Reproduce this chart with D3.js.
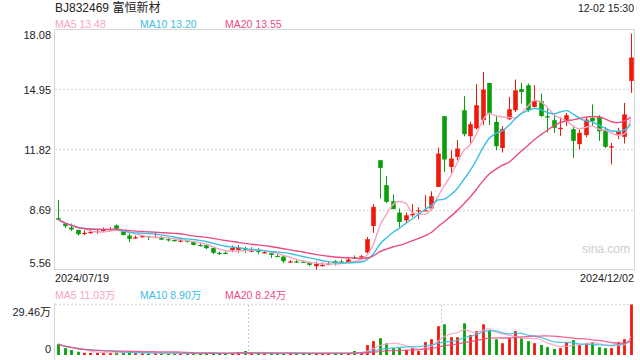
<!DOCTYPE html>
<html>
<head>
<meta charset="utf-8">
<script src="https://cdn.jsdelivr.net/npm/d3@7"></script>
<style>
  body { margin: 0; background: #fff; }
  svg { display: block; font-family: "Liberation Sans", Arial, "Noto Sans CJK SC", sans-serif; }
</style>
</head>
<body>
<div id="kline"></div>
<script>
const stockTitle = "BJ832469 富恒新材";
const stamp = "12-02 15:30";
const dateLabels = ["2024/07/19", "2024/12/02"];
const priceTicks = [18.08, 14.95, 11.82, 8.69, 5.56];
const volTicks = [29.46, 0];
const priceLegend = ["MA5 13.48", "MA10 13.20", "MA20 13.55"];
const volLegend = ["MA5 11.03万", "MA10 8.90万", "MA20 8.24万"];
const maPeriods = [5, 10, 20];
const separators = [30, 60];

const opens = [8.24, 7.96, 7.75, 7.63, 7.42, 7.47, 7.51, 7.57, 7.59, 7.86,
  7.57, 7.33, 7.21, 7.26, 7.31, 7.21, 7.23, 7.14, 7.10, 7.02,
  7.07, 7.00, 6.84, 6.83, 6.69, 6.43, 6.43, 6.57, 6.58, 6.66,
  6.50, 6.62, 6.41, 6.41, 6.27, 6.24, 5.94, 5.98, 5.97, 5.90,
  5.73, 5.77, 5.82, 5.99, 5.98, 5.94, 6.19, 6.19, 6.45, 7.83,
  11.26, 9.96, 9.12, 8.53, 8.13, 8.39, 8.60, 8.62, 8.74, 9.87,
  13.56, 10.91, 11.43, 13.87, 12.51, 12.92, 13.35, 15.29, 13.26, 11.90,
  13.40, 13.87, 14.97, 15.17, 14.04, 14.34, 13.56, 13.35, 12.89, 13.35,
  12.88, 12.10, 12.57, 13.47, 13.52, 12.83, 11.92, 12.60, 12.48, 15.40];
const highs = [9.18, 7.99, 7.96, 7.63, 7.61, 7.66, 7.70, 7.75, 7.78, 7.91,
  7.61, 7.44, 7.33, 7.35, 7.31, 7.52, 7.31, 7.23, 7.14, 7.23,
  7.10, 7.00, 6.92, 6.83, 6.69, 6.50, 6.53, 6.81, 6.83, 6.74,
  6.72, 6.69, 6.57, 6.44, 6.36, 6.24, 6.05, 6.05, 5.98, 5.98,
  5.98, 5.93, 5.96, 6.05, 6.08, 6.16, 6.29, 6.31, 7.26, 8.97,
  11.26, 10.43, 9.47, 8.74, 8.53, 8.97, 8.81, 9.45, 9.64, 11.92,
  13.56, 11.78, 12.31, 14.60, 13.26, 15.23, 15.87, 15.29, 13.61, 13.04,
  14.56, 15.47, 15.29, 15.26, 15.17, 14.74, 13.96, 13.70, 13.52, 13.73,
  13.00, 12.86, 13.52, 14.17, 13.61, 13.00, 12.16, 12.95, 14.25, 17.87];
const lows = [8.13, 7.73, 7.57, 7.33, 7.35, 7.42, 7.42, 7.51, 7.54, 7.66,
  7.33, 6.98, 7.16, 7.22, 7.09, 7.21, 7.09, 7.02, 7.01, 6.98,
  6.97, 6.81, 6.76, 6.62, 6.36, 6.32, 6.36, 6.46, 6.43, 6.43,
  6.46, 6.36, 6.39, 6.16, 6.22, 5.89, 5.93, 5.90, 5.90, 5.73,
  5.56, 5.70, 5.78, 5.77, 5.89, 5.93, 6.11, 6.13, 6.39, 7.47,
  9.26, 9.03, 8.71, 7.75, 7.99, 8.30, 8.18, 8.62, 8.65, 9.87,
  10.65, 10.57, 11.26, 12.51, 12.13, 12.86, 13.09, 13.09, 11.78, 11.66,
  13.35, 13.78, 14.22, 13.78, 14.01, 13.52, 12.71, 12.69, 12.53, 13.04,
  11.38, 11.82, 12.46, 13.04, 12.27, 11.90, 11.04, 12.36, 12.13, 14.77];
const closes = [8.16, 7.82, 7.65, 7.40, 7.47, 7.52, 7.56, 7.63, 7.66, 7.68,
  7.36, 7.16, 7.24, 7.30, 7.26, 7.26, 7.12, 7.10, 7.05, 7.07,
  7.00, 6.84, 6.81, 6.67, 6.43, 6.39, 6.40, 6.69, 6.72, 6.53,
  6.55, 6.48, 6.46, 6.32, 6.24, 5.99, 5.98, 5.93, 5.93, 5.80,
  5.85, 5.80, 5.87, 5.87, 5.94, 6.08, 6.15, 6.25, 7.14, 8.83,
  10.86, 9.09, 8.71, 8.04, 8.39, 8.46, 8.65, 8.65, 9.38, 11.61,
  11.30, 11.35, 11.87, 12.62, 13.14, 14.13, 14.95, 13.70, 11.99, 12.88,
  13.92, 14.91, 14.82, 13.87, 14.38, 13.57, 13.49, 12.95, 12.95, 13.61,
  12.27, 12.69, 13.38, 13.30, 12.77, 11.96, 11.99, 12.77, 13.65, 16.62];
// volume in 万
const volumes = [6.35, 4.0, 2.9, 1.9, 1.3, 1.2, 1.2, 1.2, 1.2, 1.6,
  1.7, 1.7, 1.1, 1.0, 1.0, 1.1, 1.0, 1.0, 0.9, 1.0,
  1.0, 1.1, 0.9, 1.0, 1.2, 1.0, 0.9, 1.2, 1.7, 2.3,
  1.0, 1.1, 0.9, 1.0, 0.9, 1.2, 0.9, 0.8, 0.8, 1.0,
  1.2, 1.0, 0.9, 1.0, 0.9, 1.2, 2.3, 1.3, 5.8, 8.1,
  9.8, 6.8, 4.0, 4.0, 2.9, 4.0, 2.3, 7.5, 9.2, 16.8,
  17.9, 10.4, 10.4, 18.5, 11.6, 13.9, 17.9, 14.4, 9.2, 6.9,
  9.8, 13.9, 9.8, 8.1, 6.9, 5.8, 4.6, 3.5, 4.0, 7.5,
  8.7, 5.8, 6.9, 7.5, 4.6, 4.0, 4.0, 7.5, 9.2, 29.46];

const RED = "#f0190c", GREEN = "#0a9e0a";
const maColors = ["#f7a4c2", "#3ac0e2", "#ec4b83"];

function movingAvg(arr, n) {
  return arr.map((_, i) => d3.mean(arr.slice(Math.max(0, i - n + 1), i + 1)));
}

function drawKline(containerId) {
  const width = 640, height = 360;
  const left = 55, right = 634;
  const n = closes.length;

  const svg = d3.select(`#${containerId}`)
    .append("svg")
      .attr("width", width)
      .attr("height", height);

  const x = d3.scaleBand().domain(d3.range(n)).range([left, right]);
  const y = d3.scaleLinear().domain([5.56, 18.08]).range([269.5, 29.5]);
  const yv = d3.scaleLinear().domain([0, 29.46]).range([355, 304.5]);
  const cx = i => Math.round(x(i) + x.bandwidth() / 2) + 0.5;

  // header
  svg.append("text").attr("x", 55).attr("y", 12)
      .attr("font-size", 12).attr("fill", "#222").text(stockTitle);
  svg.append("text").attr("x", right).attr("y", 12).attr("text-anchor", "end")
      .attr("font-size", 10.5).attr("fill", "#222").text(stamp);
  priceLegend.forEach((t, k) => {
    svg.append("text").attr("x", 55 + k * 85).attr("y", 27.5)
        .attr("font-size", 10.5).attr("fill", maColors[k]).text(t);
  });

  // grid + frame
  svg.append("g").selectAll("line")
    .data(priceTicks.slice(1, -1))
    .join("line")
      .attr("x1", left).attr("x2", right)
      .attr("y1", d => Math.round(y(d)) + 0.5).attr("y2", d => Math.round(y(d)) + 0.5)
      .attr("stroke", "#dedede").attr("stroke-width", 1.6)
      .attr("stroke-dasharray", "2,2");

  svg.append("rect")
      .attr("x", left - 0.5).attr("y", 29.5)
      .attr("width", right - left + 1).attr("height", 240)
      .attr("fill", "none").attr("stroke", "#d6d6d6");

  svg.append("text").attr("x", 582).attr("y", 253)
      .attr("font-size", 12).attr("fill", "#cdcdcd").text("sina.com");

  // price axis labels
  const ya = svg.append("g")
      .attr("transform", `translate(${left},0)`)
      .call(d3.axisLeft(y).tickValues(priceTicks).tickSize(0).tickPadding(4).tickFormat(d3.format(".2f")));
  ya.select(".domain").remove();
  ya.attr("font-family", null).attr("font-size", 11);
  ya.selectAll("text").attr("fill", "#222")
      .attr("y", d => d === priceTicks[0] ? 5.5 : d === priceTicks[priceTicks.length - 1] ? -6.5 : 0);

  // candles
  const isUp = i => closes[i] >= opens[i];
  const candles = svg.append("g").selectAll("g")
    .data(d3.range(n))
    .join("g");
  candles.append("line")
      .attr("x1", cx).attr("x2", cx)
      .attr("y1", i => y(highs[i])).attr("y2", i => y(lows[i]))
      .attr("stroke", i => isUp(i) ? RED : GREEN);
  const bw = 4.6;
  candles.append("rect")
      .attr("x", i => cx(i) - bw / 2)
      .attr("width", bw)
      .attr("y", i => y(Math.max(opens[i], closes[i])))
      .attr("height", i => Math.max(1.2, Math.abs(y(opens[i]) - y(closes[i]))))
      .attr("fill", i => isUp(i) ? RED : GREEN);

  // price MAs
  const line = d3.line().x((d, i) => x(i) + x.bandwidth() / 2).y(d => y(d)).curve(d3.curveMonotoneX);
  maPeriods.forEach((p, k) => {
    svg.append("path")
        .datum(movingAvg(closes, p))
        .attr("fill", "none")
        .attr("stroke", maColors[k])
        .attr("stroke-width", 1.4)
        .attr("d", line);
  });

  // dates
  svg.append("text").attr("x", left).attr("y", 281.5)
      .attr("font-size", 10.8).attr("fill", "#222").text(dateLabels[0]);
  svg.append("text").attr("x", right).attr("y", 281.5).attr("text-anchor", "end")
      .attr("font-size", 10.8).attr("fill", "#222").text(dateLabels[1]);

  // volume panel
  volLegend.forEach((t, k) => {
    svg.append("text").attr("x", 55 + k * 85).attr("y", 299)
        .attr("font-size", 10.5).attr("fill", maColors[k]).text(t);
  });

  svg.append("line")
      .attr("x1", left).attr("x2", right).attr("y1", 304.5).attr("y2", 304.5)
      .attr("stroke", "#dedede").attr("stroke-width", 1.6).attr("stroke-dasharray", "2,2");
  svg.append("g").selectAll("line")
    .data(separators)
    .join("line")
      .attr("x1", d => Math.round(x(d)) + 0.5).attr("x2", d => Math.round(x(d)) + 0.5)
      .attr("y1", 305).attr("y2", 356)
      .attr("stroke", "#cccccc").attr("stroke-dasharray", "2,2");
  svg.append("line")
      .attr("x1", left - 0.5).attr("x2", left - 0.5).attr("y1", 303).attr("y2", 360)
      .attr("stroke", "#d6d6d6");

  const va = svg.append("g")
      .attr("transform", `translate(${left},0)`)
      .call(d3.axisLeft(yv).tickValues(volTicks).tickSize(0).tickPadding(4)
        .tickFormat(d => d ? d + "万" : "0"));
  va.select(".domain").remove();
  va.attr("font-family", null).attr("font-size", 11);
  va.selectAll("text").attr("fill", "#222")
      .attr("y", d => d ? 7 : -6.5);

  const vw = 2.8;
  svg.append("g").selectAll("rect")
    .data(d3.range(n))
    .join("rect")
      .attr("x", i => cx(i) - vw / 2)
      .attr("width", vw)
      .attr("y", i => yv(volumes[i]))
      .attr("height", i => Math.max(1, yv(0) - yv(volumes[i])))
      .attr("fill", i => isUp(i) ? RED : GREEN);

  const vline = d3.line().x((d, i) => x(i) + x.bandwidth() / 2).y(d => yv(d)).curve(d3.curveMonotoneX);
  maPeriods.forEach((p, k) => {
    svg.append("path")
        .datum(movingAvg(volumes, p))
        .attr("fill", "none")
        .attr("stroke", maColors[k])
        .attr("stroke-opacity", 0.85)
        .attr("stroke-width", 1.3)
        .attr("d", vline);
  });
}

document.addEventListener("DOMContentLoaded", function () {
  drawKline("kline");
});
</script>
</body>
</html>
